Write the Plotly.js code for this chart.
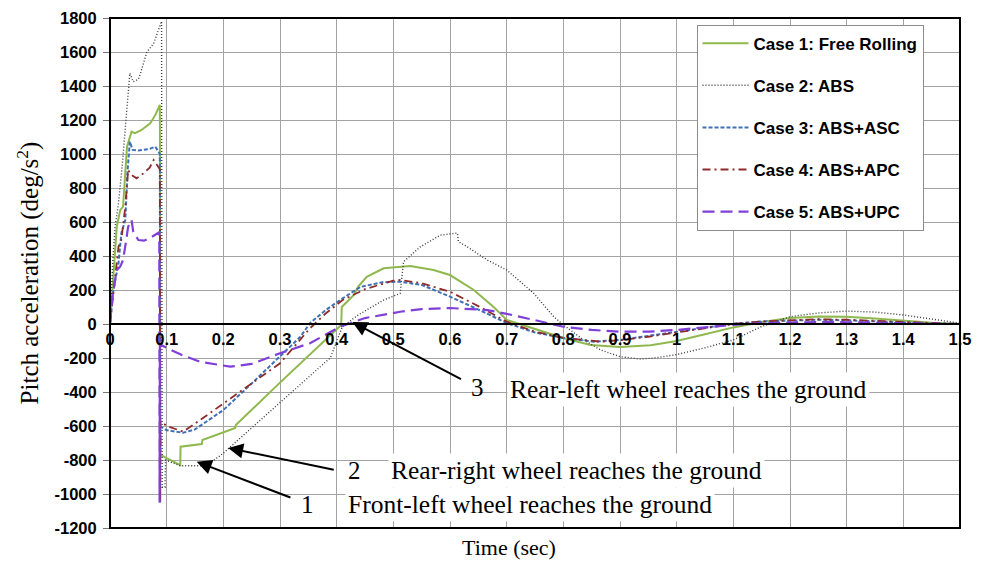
<!DOCTYPE html>
<html>
<head>
<meta charset="utf-8">
<script src="https://cdn.plot.ly/plotly-3.0.1.min.js"></script>
<style>
  html, body { margin: 0; padding: 0; background: #ffffff; }
  #chart { width: 981px; height: 562px; }
</style>
</head>
<body>
<div id="chart"></div>
<script>
// Pitch acceleration time histories for the five braking/control cases
const seriesNames = [
  'Case 1: Free Rolling',
  'Case 2: ABS',
  'Case 3: ABS+ASC',
  'Case 4: ABS+APC',
  'Case 5: ABS+UPC'
];

// Case 1: Free Rolling
const timeCase1 = [0, 0.006, 0.012, 0.018, 0.023, 0.030, 0.038, 0.044, 0.055, 0.071, 0.080, 0.088,
  0.089, 0.124, 0.1245, 0.162, 0.163, 0.221, 0.222, 0.30, 0.408, 0.409, 0.43, 0.438, 0.453, 0.483,
  0.53, 0.571, 0.60, 0.642, 0.677, 0.70, 0.748, 0.80, 0.848, 0.90, 0.954, 1.0, 1.05, 1.1, 1.15,
  1.2, 1.25, 1.3, 1.35, 1.4, 1.45, 1.5];
const accCase1 = [0, 298, 572, 670, 690, 1043, 1131, 1122, 1140, 1180, 1230, 1288,
  -770, -830, -722, -706, -682, -612, -594, -345, -6, 100, 170, 220, 278, 328,
  341, 318, 288, 200, 100, 24, -25, -82, -123, -135, -125, -100, -60, -20, 12,
  36, 44, 42, 32, 19, 8, 0];

// Case 2: ABS
const timeCase2 = [0, 0.005, 0.009, 0.015, 0.022, 0.027, 0.031, 0.035, 0.041, 0.05, 0.053, 0.065,
  0.077, 0.085, 0.091, 0.092, 0.097, 0.098, 0.124, 0.16, 0.18, 0.2, 0.30, 0.336, 0.389, 0.41,
  0.438, 0.483, 0.512, 0.518, 0.548, 0.583, 0.613, 0.615, 0.63, 0.666, 0.70, 0.748, 0.783, 0.80,
  0.836, 0.866, 0.90, 0.936, 0.96, 1.0, 1.05, 1.1, 1.149, 1.2, 1.25, 1.3, 1.35, 1.4, 1.45, 1.5];
const accCase2 = [0, 376, 572, 710, 950, 1160, 1340, 1475, 1425, 1440, 1465, 1600,
  1650, 1720, 1780, -960, -960, -800, -834, -834, -810, -760, -463, -356, -198, -16,
  53, 141, 180, 366, 455, 523, 535, 484, 455, 376, 318, 180, 43, -5,
  -94, -153, -192, -206, -200, -180, -140, -94, -16, 43, 65, 76, 70, 53, 30, 5];

// Case 3: ABS+ASC
const timeCase3 = [0, 0.003, 0.006, 0.015, 0.02, 0.027, 0.031, 0.035, 0.038, 0.04, 0.05, 0.059,
  0.07, 0.08, 0.085, 0.088, 0.0885, 0.089, 0.1, 0.129, 0.15, 0.2, 0.25, 0.3, 0.336, 0.353,
  0.38, 0.406, 0.442, 0.48, 0.512, 0.55, 0.6, 0.65, 0.7, 0.75, 0.8, 0.854, 0.9, 0.95, 1.0,
  1.05, 1.1, 1.15, 1.2, 1.25, 1.3, 1.35, 1.4, 1.45, 1.5];
const accCase3 = [0, 100, 200, 357, 533, 612, 900, 1073, 1050, 1024, 1020, 1024,
  1030, 1043, 1014, 1000, -1050, -604, -625, -640, -620, -506, -350, -192, -75, 5,
  80, 141, 218, 245, 249, 230, 161, 85, 6, -50, -82, -104, -94, -70, -45,
  -20, 2, 15, 22, 25, 22, 15, 8, 3, 0];

// Case 4: ABS+APC
const timeCase4 = [0, 0.005, 0.009, 0.015, 0.02, 0.027, 0.032, 0.038, 0.047, 0.059, 0.07, 0.077,
  0.085, 0.088, 0.0885, 0.089, 0.1, 0.129, 0.159, 0.2, 0.25, 0.3, 0.353, 0.38, 0.41, 0.45,
  0.5, 0.512, 0.55, 0.6, 0.65, 0.7, 0.75, 0.8, 0.866, 0.9, 0.95, 1.0, 1.05, 1.1, 1.15,
  1.2, 1.25, 1.3, 1.35, 1.4, 1.45, 1.5];
const accCase4 = [0, 150, 300, 455, 494, 690, 906, 876, 857, 886, 920, 965,
  925, 910, -1050, -570, -600, -633, -565, -467, -350, -231, -25, 60, 140, 205,
  255, 259, 240, 190, 105, 14, -45, -82, -104, -95, -75, -50, -25, 0, 15,
  22, 28, 25, 18, 10, 4, 0];

// Case 5: ABS+UPC
const timeCase5 = [0, 0.004, 0.009, 0.012, 0.018, 0.023, 0.028, 0.032, 0.038, 0.041, 0.05, 0.06,
  0.07, 0.082, 0.087, 0.0875, 0.088, 0.1, 0.125, 0.159, 0.212, 0.25, 0.3, 0.353, 0.406, 0.45,
  0.512, 0.55, 0.6, 0.666, 0.7, 0.748, 0.8, 0.85, 0.9, 0.95, 1.0, 1.05, 1.1, 1.15, 1.2,
  1.25, 1.3, 1.35, 1.4, 1.45, 1.5];
const accCase5 = [0, 150, 259, 318, 337, 376, 480, 572, 612, 543, 494, 490,
  505, 533, 540, -1050, -120, -140, -180, -222, -251, -235, -172, -113, -16, 35,
  72, 88, 94, 82, 60, 24, -16, -35, -45, -45, -35, -20, -5, 5, 10,
  12, 10, 7, 4, 2, 0];

// Axis ticks
const xTickValues = [0, 0.1, 0.2, 0.3, 0.4, 0.5, 0.6, 0.7, 0.8, 0.9, 1, 1.1, 1.2, 1.3, 1.4, 1.5];
const xTickLabels = ['0', '0.1', '0.2', '0.3', '0.4', '0.5', '0.6', '0.7', '0.8', '0.9', '1', '1.1', '1.2', '1.3', '1.4', '1.5'];
const yTickValues = [-1200, -1000, -800, -600, -400, -200, 0, 200, 400, 600, 800, 1000, 1200, 1400, 1600, 1800];
const yTickLabels = ['-1200', '-1000', '-800', '-600', '-400', '-200', '0', '200', '400', '600', '800', '1000', '1200', '1400', '1600', '1800'];

// Wheel touchdown notes
const eventNumbers = ['1', '2', '3'];
const eventTexts = [
  'Front-left wheel reaches the ground',
  'Rear-right wheel reaches the ground',
  'Rear-left wheel reaches the ground'
];

const timeSets = [timeCase1, timeCase2, timeCase3, timeCase4, timeCase5];
const accSets = [accCase1, accCase2, accCase3, accCase4, accCase5];

const lineStyles = [
  { color: '#8fb84e', width: 2, dash: 'solid' },
  { color: '#3a3a3a', width: 1.4, dash: '1px,2px' },
  { color: '#3f6fb5', width: 2, dash: '4px,2px' },
  { color: '#8e2b2b', width: 1.8, dash: '8px,4px,2px,4px' },
  { color: '#8040d8', width: 2.2, dash: '12px,6px' }
];

const traces = seriesNames.map((name, i) => ({
  type: 'scatter',
  mode: 'lines',
  name: name,
  legendgroup: 'g' + i,
  x: timeSets[i],
  y: accSets[i],
  line: lineStyles[i]
}));

const serif = 'Liberation Serif, Times New Roman, serif';
const sans = 'Liberation Sans, Arial, sans-serif';

// arrow tip and tail positions in (time, acceleration) units
const arrowSpecs = [
  { tip: [0.153, -810], tail: [0.321, -1024] },
  { tip: [0.2085, -729], tail: [0.3975, -859] },
  { tip: [0.4276, 12], tail: [0.622, -329] }
];
const numberSpots = [[0.349, -1060], [0.431, -860], [0.648, -376]];
const textSpots = [[0.414, -1060], [0.491, -860], [0.701, -388]];

const annotations = [];
arrowSpecs.forEach(a => {
  annotations.push({
    xref: 'x', yref: 'y', axref: 'x', ayref: 'y',
    x: a.tip[0], y: a.tip[1], ax: a.tail[0], ay: a.tail[1],
    text: '', showarrow: true, arrowhead: 2, arrowsize: 1.5, arrowwidth: 2,
    arrowcolor: '#000000', standoff: 0, startstandoff: 0
  });
});
eventNumbers.forEach((n, i) => {
  annotations.push({
    xref: 'x', yref: 'y', x: numberSpots[i][0], y: numberSpots[i][1],
    text: n, showarrow: false, xanchor: 'center', yanchor: 'middle',
    font: { family: serif, size: 25, color: '#000000' }
  });
  annotations.push({
    xref: 'x', yref: 'y', x: textSpots[i][0], y: textSpots[i][1],
    text: eventTexts[i], showarrow: false, xanchor: 'left', yanchor: 'middle',
    bgcolor: '#ffffff', borderpad: 2,
    font: { family: serif, size: 25.5, color: '#000000' }
  });
});
annotations.push({
  xref: 'paper', yref: 'paper', x: 0.469, y: -0.039,
  text: 'Time (sec)', showarrow: false, xanchor: 'center', yanchor: 'middle',
  font: { family: serif, size: 22, color: '#000000' }
});

const layout = {
  width: 981,
  height: 562,
  margin: { l: 110, r: 21, t: 18, b: 34 },
  paper_bgcolor: '#ffffff',
  plot_bgcolor: '#ffffff',
  showlegend: true,
  legend: {
    x: 0.69, y: 0.987, xanchor: 'left', yanchor: 'top',
    bgcolor: '#ffffff', bordercolor: '#8c8c8c', borderwidth: 1,
    tracegroupgap: 17, itemwidth: 46,
    font: { family: sans, size: 17, color: '#000000', weight: 'bold' }
  },
  xaxis: {
    range: [0, 1.5],
    tickvals: xTickValues,
    ticktext: xTickLabels,
    anchor: 'free',
    position: 0.4,
    showgrid: true,
    gridcolor: '#a3a3a3',
    gridwidth: 1,
    zeroline: false,
    showline: true,
    linecolor: '#000000',
    linewidth: 2,
    ticks: '',
    tickfont: { family: sans, size: 16.5, color: '#000000', weight: 'bold' }
  },
  yaxis: {
    range: [-1200, 1800],
    tickvals: yTickValues,
    ticktext: yTickLabels,
    showgrid: true,
    gridcolor: '#a3a3a3',
    gridwidth: 1,
    zeroline: false,
    showline: false,
    ticks: 'outside',
    ticklen: 6,
    tickcolor: '#777777',
    ticklabelstandoff: 3,
    tickfont: { family: sans, size: 16.5, color: '#000000', weight: 'bold' },
    title: {
      text: 'Pitch acceleration (deg/s<sup>2</sup>)',
      font: { family: serif, size: 25, color: '#000000' },
      standoff: 8
    }
  },
  shapes: [{
    type: 'rect', xref: 'paper', yref: 'paper', x0: 0, x1: 1, y0: 0, y1: 1,
    line: { color: '#000000', width: 2 }, layer: 'above'
  }],
  annotations: annotations
};

Plotly.newPlot('chart', traces, layout, { displayModeBar: false, staticPlot: true });
</script>
</body>
</html>
